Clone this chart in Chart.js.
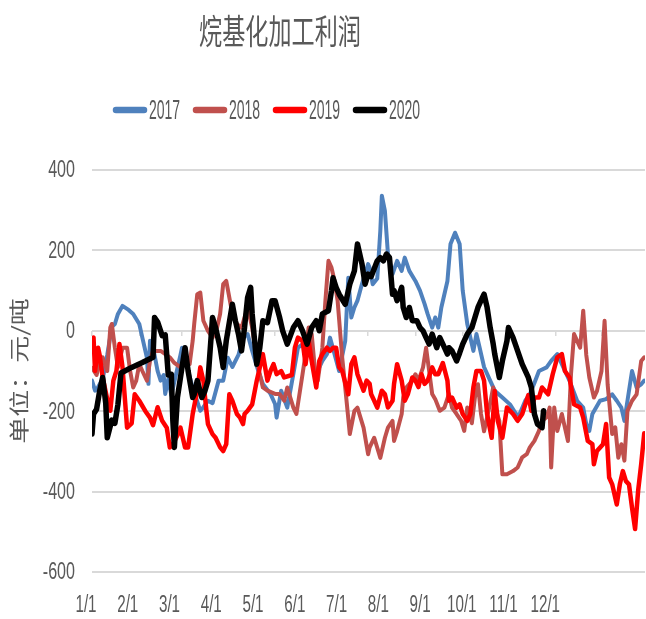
<!DOCTYPE html>
<html>
<head>
<meta charset="utf-8">
<script src="https://cdn.jsdelivr.net/npm/chart.js@4.4.1/dist/chart.umd.min.js"></script>
<style>
  html, body { margin: 0; padding: 0; background: #fff; }
  canvas { display: block; }
</style>
</head>
<body>
<canvas id="profitChart" width="646" height="619"></canvas>
<script>
// Labels
const chartTitle = '烷基化加工利润';
const yTitle = '单位：元/吨';
const xLabels = ['1/1', '2/1', '3/1', '4/1', '5/1', '6/1', '7/1', '8/1', '9/1', '10/1', '11/1', '12/1'];
const years = ['2017', '2018', '2019', '2020'];
const monthStarts = [0, 31, 59, 90, 120, 151, 181, 212, 243, 273, 304, 334];

// Series: day of year and profit (yuan/ton)
const days2017 = [0,2,4,7,10,13,15,17,20,24,27,31,33,36,37,38,40,43,45,47,48,50,52,55,58,59,61,63,66,71,73,76,79,83,86,89,92,96,99,102,105,109,112,117,120,121,124,128,132,135,138,143,147,151,154,156,159,162,166,168,170,172,174,177,181,182,184,187,189,190,192,194,197,200,203,205,208,212,215,218,220,223,225,227,229,233,235,238,241,243,246,250,252,254,257,261,264,269,274,278,280,284,287,290,293,298,301,305,308,313,318,322,324,326,328,333,337,341,344,347,349,351,354,357,360,362];
const vals2017 = [-124,-149,-140,-120,-60,10,17,42,62,52,42,17,-17,-67,-132,-25,-40,-100,-124,-110,-157,-120,-160,-110,-60,-42,-60,-100,-141,-199,-190,-174,-180,-124,-124,-67,-90,-60,-17,-8,-50,-100,-132,-157,-182,-216,-149,-191,-107,-42,-34,-50,-107,-75,-58,-17,-58,-100,-25,132,33,58,75,117,166,157,116,130,249,336,298,191,141,174,149,182,149,124,100,67,42,8,33,8,58,124,216,244,216,100,17,-50,-8,-40,-90,-124,-149,-166,-183,-207,-210,-174,-158,-130,-100,-91,-75,-58,-83,-124,-174,-191,-232,-249,-207,-174,-170,-158,-174,-191,-224,-174,-100,-141,-133,-124];

const days2018 = [0,3,5,7,10,12,13,15,17,20,23,25,27,29,31,33,36,38,40,45,48,51,54,58,61,64,66,67,69,71,73,76,79,82,84,86,88,90,92,95,98,100,102,105,107,109,112,115,120,123,126,128,132,134,138,140,142,144,146,148,151,153,155,157,159,161,164,166,169,172,174,178,181,182,185,189,192,194,197,198,200,203,204,206,210,212,214,217,219,223,225,228,231,234,236,239,242,244,246,249,251,253,255,257,261,263,265,267,269,272,276,279,282,285,287,290,293,295,298,300,301,303,305,308,310,312,314,316,318,320,322,324,326,329,331,334,336,338,341,343,345,347,349,351,354,357,360,362];
const vals2018 = [-92,-110,-80,-66,-100,8,17,-42,-91,-42,-42,-100,-141,-124,-83,-100,-124,-75,-50,-50,-58,-66,-80,-91,-66,-83,-25,17,91,95,25,0,-17,8,42,116,124,83,42,17,8,33,58,8,-42,-91,-141,-149,-157,-157,-174,-141,-191,-207,-108,-58,8,-8,-91,-124,-42,75,174,157,124,75,-66,-141,-257,-199,-191,-241,-307,-290,-266,-316,-266,-241,-224,-274,-250,-207,-166,-141,-124,-108,-124,-91,-42,-157,-170,-199,-191,-157,-191,-207,-224,-249,-191,-230,-166,-133,-207,-250,-180,-141,-200,-224,-357,-357,-349,-340,-315,-307,-290,-274,-249,-224,-215,-191,-340,-191,-249,-207,-241,-274,-108,-8,-25,-42,50,-60,-116,-166,-150,-100,25,-133,-257,-240,-316,-282,-323,-199,-174,-158,-75,-66];

const days2019 = [0,1,2,4,5,7,10,12,14,16,18,20,23,26,28,31,35,38,40,43,46,49,51,53,56,58,61,63,66,69,71,73,75,76,79,81,84,86,88,90,92,95,97,99,100,102,105,108,110,112,115,117,119,121,124,126,131,133,135,138,140,142,144,147,149,151,154,156,158,160,162,164,168,170,172,174,178,180,182,183,185,187,190,192,194,197,198,200,203,205,207,210,212,214,216,218,220,223,225,227,230,233,234,236,239,241,243,246,248,250,252,255,257,259,262,264,266,269,272,276,279,282,286,288,290,293,295,299,302,305,308,310,313,316,320,322,325,328,329,331,335,337,339,341,344,346,348,350,352,354,356,358,360,362];
const vals2019 = [-25,-17,-100,-42,-60,-116,-170,-199,-124,-100,-33,-91,-241,-230,-158,-174,-200,-216,-235,-190,-224,-241,-290,-282,-260,-241,-290,-290,-207,-149,-91,-124,-199,-232,-257,-266,-290,-299,-282,-158,-174,-207,-216,-232,-207,-199,-183,-124,-91,-58,-124,-100,-83,-108,-100,-116,-110,-42,-17,-25,-83,-25,-75,-141,-75,-58,-42,-50,-42,-42,-91,-100,-158,-83,-66,-108,-149,-124,-132,-158,-174,-191,-149,-158,-191,-174,-132,-83,-124,-174,-158,-116,-124,-140,-108,-132,-124,-91,-108,-108,-80,-124,-174,-166,-191,-183,-207,-224,-207,-141,-100,-100,-124,-207,-266,-150,-224,-266,-191,-207,-224,-207,-160,-199,-166,-166,-141,-158,-108,-66,-58,-100,-116,-183,-191,-216,-274,-282,-332,-299,-282,-232,-365,-382,-432,-382,-349,-374,-382,-440,-493,-398,-332,-255];

const days2020 = [0,1,3,5,7,9,10,13,15,17,19,26,33,40,41,43,46,48,50,52,53,54,56,59,61,63,66,67,69,72,74,76,79,81,84,86,88,92,94,96,98,100,102,104,105,108,110,112,115,118,120,123,125,128,132,135,138,141,144,147,149,151,155,157,158,160,162,166,169,172,174,177,179,181,183,187,189,191,193,195,197,198,200,203,204,206,208,210,213,215,217,219,221,223,226,228,230,233,234,236,239,241,243,246,249,253,255,257,259,261,263,264,267,269,272,273,276,279,282,286,288,290,292,295,296];
const vals2020 = [-257,-207,-195,-150,-116,-180,-266,-222,-230,-183,-105,-91,-79,-66,33,22,-12,-10,-110,-108,-224,-290,-166,-91,-42,-100,-166,-158,-124,-166,-150,-124,33,8,-42,-91,-25,66,25,-8,-50,8,83,108,42,-83,-42,25,20,75,75,33,0,-33,8,25,0,-33,8,25,0,42,50,100,132,108,91,66,116,149,216,166,116,141,135,174,182,174,191,182,91,100,75,108,58,33,58,25,25,8,0,-17,-33,-8,-42,-17,-33,-58,-42,-50,-75,-55,-33,-8,8,58,75,91,58,8,-33,-58,-116,-75,-25,8,-17,-50,-83,-116,-141,-207,-232,-241,-199];

function toPoints(days, vals) {
    return days.map((d, i) => ({ x: d, y: vals[i] }));
}

const seriesData = [
    toPoints(days2017, vals2017),
    toPoints(days2018, vals2018),
    toPoints(days2019, vals2019),
    toPoints(days2020, vals2020)
];
const seriesColors = ['#4f81bd', '#c0504d', '#ff0000', '#000000'];
const seriesWidths = [4, 4, 4.5, 5.5];

const textColor = '#595959';
const gridColor = '#d9d9d9';
const latinFont = "'Liberation Sans', Arial, sans-serif";
const cjkFont = "'Noto Sans CJK SC', sans-serif";
const labelStep = 27.37;
const xMax = 362.5;

// squeezed text, the original picture is narrow
function narrowText(ctx, text, x, y, sx, align) {
    ctx.save();
    ctx.translate(x, y);
    ctx.scale(sx, 1);
    ctx.textAlign = align;
    ctx.fillText(text, 0, 0);
    ctx.restore();
}

// title, legend, tick labels and y-axis caption
const captionPlugin = {
    id: 'captions',
    afterDraw(chart) {
        const ctx = chart.ctx;
        const xs = chart.scales.x;
        const ys = chart.scales.y;
        ctx.save();
        ctx.fillStyle = textColor;
        ctx.textBaseline = 'middle';

        ctx.font = '34px ' + cjkFont;
        narrowText(ctx, chartTitle, 280, 31, 0.68, 'center');

        ctx.font = '28px ' + latinFont;
        years.forEach((yr, i) => {
            const x = 113 + i * 80;
            ctx.strokeStyle = seriesColors[i];
            ctx.lineWidth = 6.5;
            ctx.lineCap = 'round';
            ctx.beginPath();
            ctx.moveTo(x + 3, 110);
            ctx.lineTo(x + 31, 110);
            ctx.stroke();
            narrowText(ctx, yr, x + 36, 111, 0.5, 'left');
        });

        // y tick labels
        ctx.font = '23px ' + latinFont;
        ys.ticks.forEach(t => {
            narrowText(ctx, t.label, 75, ys.getPixelForValue(t.value) + 1, 0.7, 'right');
        });
        // x tick labels
        xLabels.forEach((lab, i) => {
            narrowText(ctx, lab, xs.getPixelForValue(i * labelStep) - 6, 606, 0.66, 'center');
        });

        ctx.save();
        ctx.translate(19, 371);
        ctx.scale(0.75, 1);
        ctx.rotate(-Math.PI / 2);
        ctx.textAlign = 'center';
        ctx.font = '27px ' + cjkFont;
        ctx.fillText(yTitle, 0, 0);
        ctx.restore();

        ctx.restore();
    }
};

new Chart(document.getElementById('profitChart').getContext('2d'), {
    type: 'line',
    data: {
        datasets: years.map((yr, i) => ({
            label: yr,
            data: seriesData[i],
            borderColor: seriesColors[i],
            backgroundColor: seriesColors[i],
            borderWidth: seriesWidths[i],
            order: 4 - i,
            fill: false
        }))
    },
    options: {
        responsive: false,
        animation: false,
        layout: { padding: { top: 170, right: 1, bottom: 0, left: 0 } },
        elements: {
            point: { radius: 0 },
            line: { tension: 0, borderJoinStyle: 'round', borderCapStyle: 'round' }
        },
        plugins: {
            legend: { display: false },
            title: { display: false },
            tooltip: { enabled: false }
        },
        scales: {
            x: {
                type: 'linear',
                position: 'bottom',
                min: 0,
                max: xMax,
                grid: { display: false },
                border: { display: false },
                afterBuildTicks: function (scale) {
                    scale.ticks = xLabels.map((_, i) => ({ value: i * labelStep }));
                },
                afterFit: function (scale) { scale.height = 47; },
                ticks: { display: false }
            },
            x2: {
                type: 'linear',
                position: { y: 0 },
                min: 0,
                max: xMax,
                grid: { drawOnChartArea: false, drawTicks: true, tickLength: 5, color: gridColor, lineWidth: 1.5 },
                border: { display: false },
                afterBuildTicks: function (scale) {
                    scale.ticks = monthStarts.map(d => ({ value: d }));
                },
                ticks: { display: false }
            },
            y: {
                min: -600,
                max: 400,
                grid: { color: gridColor, lineWidth: 2, drawTicks: false },
                border: { display: false },
                afterFit: function (scale) { scale.width = 92; },
                ticks: { stepSize: 200, display: false }
            }
        }
    },
    plugins: [captionPlugin]
});
</script>
</body>
</html>
